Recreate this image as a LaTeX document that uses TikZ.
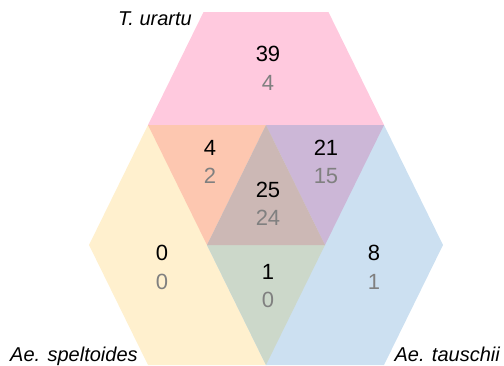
\documentclass[tikz,border=0pt]{standalone}
\usepackage{fontspec}
\setmainfont{Liberation Sans}
\usepackage{tikz}
\tikzset{every node/.style={inner sep=0pt}}
\tikzset{cnt/.style={font=\fontsize{22}{26}\selectfont, text=black}}
\tikzset{sub/.style={font=\fontsize{22}{26}\selectfont, text=subcol}}
\tikzset{taxon/.style={font=\fontsize{20}{24}\selectfont\itshape, text=black}}
\colorlet{subcol}{black!50}
\definecolor{urartucol}{HTML}{FFC9DE}
\definecolor{speltcol}{HTML}{FFF0CE}
\definecolor{tauschcol}{HTML}{CCE0F1}
\definecolor{usecol}{HTML}{FDC7B0}
\definecolor{utacol}{HTML}{CCB7D7}
\definecolor{stacol}{HTML}{CCD8CA}
\definecolor{allcol}{HTML}{CCB8B5}

\begin{document}
\begin{tikzpicture}[x=1pt, y=-1pt]

  \useasboundingbox (0,0) rectangle (504,365);

  % Three hexagons, cut to the frame.
  \begin{scope}
    \clip (0,12) rectangle (504,365);
    \fill[urartucol] (207,5) -- (325,5) -- (384,125) -- (325,245)
      -- (207,245) -- (148,125) -- cycle;
    \fill[speltcol] (148,125) -- (266,125) -- (325,245) -- (266,365)
      -- (148,365) -- (89,245) -- cycle;
    \fill[tauschcol] (266,125) -- (384,125) -- (443,245) -- (384,365)
      -- (266,365) -- (207,245) -- cycle;

    % Overlaps.
    \fill[usecol] (148,125) -- (266,125) -- (207,245) -- cycle;
    \fill[utacol] (266,125) -- (384,125) -- (325,245) -- cycle;
    \fill[stacol] (207,245) -- (325,245) -- (266,365) -- cycle;
    \fill[allcol] (266,125) -- (325,245) -- (207,245) -- cycle;
  \end{scope}

  % Counts (upper) and sub-counts (lower).
  \node[cnt] (u) at (268,54) {39};
  \node[sub] (usub) at (268,83) {4};

  \node[cnt] (us) at (210,148) {4};
  \node[sub] (ussub) at (210,176) {2};

  \node[cnt] (ut) at (326,148) {21};
  \node[sub] (utsub) at (326,176) {15};

  \node[cnt] (ust) at (268,190) {25};
  \node[sub] (ustsub) at (268,218) {24};

  \node[cnt] (s) at (162,253) {0};
  \node[sub] (ssub) at (162,282) {0};

  \node[cnt] (st) at (268,272) {1};
  \node[sub] (stsub) at (268,300) {0};

  \node[cnt] (t) at (374,253) {8};
  \node[sub] (tsub) at (374,282) {1};

  % Species names.
  \node[taxon, anchor=base east] (urartu) at (192,25) {T. urartu};
  \node[taxon, anchor=base west] (speltoides) at (10,361) {Ae. speltoides};
  \node[taxon, anchor=base east] (tauschii) at (500,361) {Ae. tauschii};

\end{tikzpicture}
\end{document}
